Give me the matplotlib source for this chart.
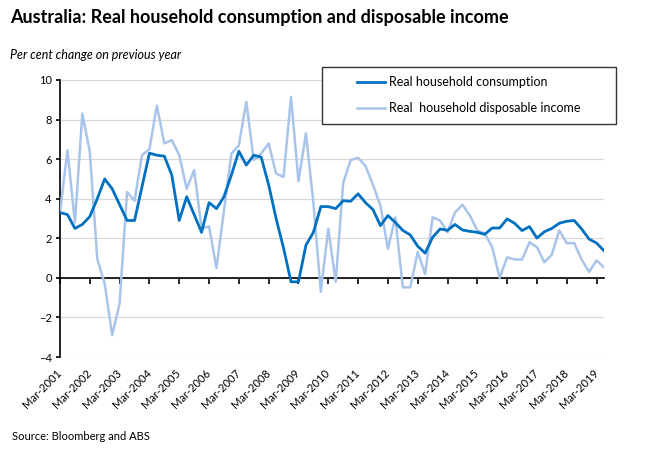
import matplotlib
matplotlib.use("Agg")
import matplotlib.pyplot as plt
from matplotlib.patches import Rectangle

plt.rcParams['font.family'] = ['Lato', 'DejaVu Sans']

# quarterly, Mar-2001 .. Jun-2019
consumption = [3.3, 3.2, 2.5, 2.7, 3.1, 4.0, 5.0, 4.5, 3.7, 2.9,
               2.9, 4.6, 6.3, 6.2, 6.15, 5.2, 2.9, 4.1, 3.2, 2.3,
               3.8, 3.5, 4.1, 5.2, 6.4, 5.7, 6.2, 6.1, 4.7, 3.0,
               1.5, -0.2, -0.2, 1.65, 2.3, 3.6, 3.6, 3.5, 3.9, 3.87,
               4.25, 3.8, 3.45, 2.64, 3.15, 2.8, 2.4, 2.17, 1.6, 1.25,
               2.05, 2.47, 2.4, 2.7, 2.42, 2.35, 2.3, 2.2, 2.52, 2.52,
               2.98, 2.76, 2.39, 2.59, 2.01, 2.33, 2.5, 2.76, 2.86, 2.9,
               2.47, 1.96, 1.76, 1.37]
income = [3.3, 6.45, 2.8, 8.3, 6.37, 0.96, -0.3, -2.9, -1.3, 4.34,
          3.9, 6.2, 6.5, 8.7, 6.8, 6.96, 6.2, 4.5, 5.44, 2.5,
          2.6, 0.5, 3.4, 6.28, 6.7, 8.9, 5.95, 6.28, 6.8, 5.27,
          5.1, 9.15, 4.88, 7.3, 3.8, -0.7, 2.48, -0.2, 4.8, 5.95,
          6.07, 5.65, 4.7, 3.65, 1.47, 3.05, -0.48, -0.48, 1.3, 0.2,
          3.06, 2.9, 2.3, 3.3, 3.7, 3.15, 2.4, 2.25, 1.55, 0.0,
          1.04, 0.93, 0.92, 1.8, 1.55, 0.79, 1.18, 2.4, 1.75, 1.76,
          0.92, 0.3, 0.88, 0.53]
tick_labels = ["Mar-%d" % y for y in range(2001, 2020)]

W, H = 650, 455
fig = plt.figure(figsize=(6.5, 4.55), dpi=100)
ax = fig.add_axes([60 / W, 1 - 357 / H, (604 - 60) / W, (357 - 80) / H])

x = range(len(consumption))
l1, = ax.plot(x, consumption, color='#0070c0', lw=2.0, zorder=4)
l2, = ax.plot(x, income, color='#a9c4eb', lw=1.8, zorder=3)

ax.set_xlim(0, len(consumption) - 1)
ax.set_ylim(-4, 10)
ax.set_yticks(range(-4, 11, 2))
ax.yaxis.grid(True, color='#d9d9d9', lw=0.9)
ax.set_axisbelow(True)
for s in ['top', 'right']:
    ax.spines[s].set_visible(False)
ax.spines['left'].set_linewidth(1.2)
ax.spines['bottom'].set_position(('data', 0))
ax.spines['bottom'].set_linewidth(1.2)
ax.tick_params(axis='y', length=3, width=1.2, labelsize=8, pad=3)

ax.set_xticks(range(0, len(consumption), 4))
ax.tick_params(axis='x', length=4, width=1.2, labelbottom=False)

sec = ax.secondary_xaxis('bottom')
sec.set_xticks(range(0, len(consumption), 4))
sec.set_xticklabels(tick_labels, rotation=45, ha='right', va='center',
                    rotation_mode='anchor', fontsize=8)
sec.tick_params(length=0, pad=10)
sec.spines['bottom'].set_visible(False)

# legend box
fig.patches.append(Rectangle((322 / W, 1 - 124 / H), (616 - 322) / W, (124 - 67) / H,
                             transform=fig.transFigure, fill=True, facecolor='white',
                             edgecolor='#333333', lw=1.0, zorder=5))
leg = fig.legend([l1, l2], ["Real household consumption", "Real  household disposable income"],
                 loc='upper left', bbox_to_anchor=(357 / W, 1 - 76 / H),
                 bbox_transform=fig.transFigure, frameon=False, fontsize=9,
                 handlelength=2.2, handletextpad=0.35, labelspacing=1.15,
                 borderpad=0, borderaxespad=0)
leg.set_zorder(6)

fig.text(10 / W, 1 - 17 / H, "Australia: Real household consumption and disposable income",
         fontsize=13, fontweight='bold', va='center', ha='left')
fig.text(10 / W, 1 - 55 / H, "Per cent change on previous year",
         fontsize=9, style='italic', va='center', ha='left')
fig.text(12 / W, 1 - 437 / H, "Source: Bloomberg and ABS",
         fontsize=8, va='center', ha='left')

fig.savefig("out.png", dpi=100)
